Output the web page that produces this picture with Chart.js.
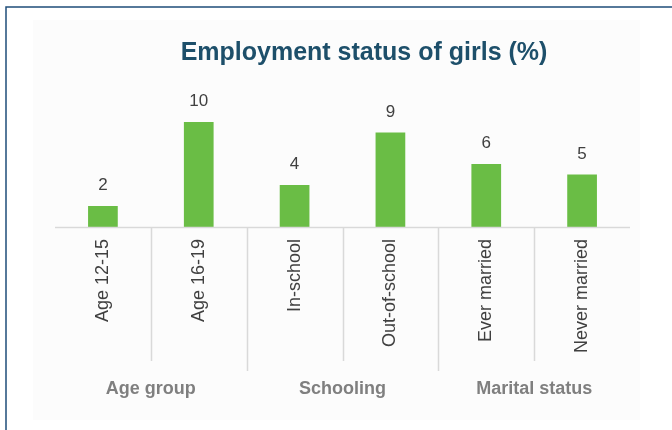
<!DOCTYPE html>
<html>
<head>
<meta charset="utf-8">
<script src="https://cdn.jsdelivr.net/npm/chart.js@4.4.0/dist/chart.umd.min.js"></script>
<style>
  html, body { margin: 0; padding: 0; background: #ffffff; }
  #wrap { position: relative; width: 672px; height: 430px; }
</style>
</head>
<body>
<div id="wrap"><canvas id="employmentChart" width="672" height="430"></canvas></div>
<script>
// Employment status of girls, by subgroup
const categories = ['Age 12-15', 'Age 16-19', 'In-school', 'Out-of-school', 'Ever married', 'Never married'];
const employedPct = [2, 10, 4, 9, 6, 5];
const groupNames = ['Age group', 'Schooling', 'Marital status'];
const groupSizes = [2, 2, 2];

const FONT = '"Liberation Sans", Arial, sans-serif';
const AXIS_GREY = '#d9d9d9';

// frame, title, separators, group names and value labels
const decorPlugin = {
    id: 'decor',
    beforeDraw(chart) {
        const ctx = chart.ctx;
        ctx.save();
        ctx.fillStyle = '#ffffff';
        ctx.fillRect(0, 0, chart.width, chart.height);
        ctx.fillStyle = '#fcfcfc';
        ctx.fillRect(33, 20, 607, 400);
        // dark outer frame (top and left edges)
        ctx.strokeStyle = '#1f4e79';
        ctx.lineWidth = 1.5;
        ctx.beginPath();
        ctx.moveTo(6, chart.height);
        ctx.lineTo(6, 7);
        ctx.lineTo(chart.width, 7);
        ctx.stroke();
        ctx.restore();
    },
    afterDraw(chart) {
        const ctx = chart.ctx;
        const x = chart.scales.x;
        const area = chart.chartArea;
        ctx.save();

        // title
        ctx.fillStyle = '#1d4f6a';
        ctx.font = 'bold 25px ' + FONT;
        ctx.textAlign = 'center';
        ctx.textBaseline = 'alphabetic';
        ctx.fillText('Employment status of girls (%)', 364, 60);

        // category axis line
        ctx.strokeStyle = AXIS_GREY;
        ctx.lineWidth = 1.5;
        ctx.beginPath();
        ctx.moveTo(area.left, area.bottom + 0.5);
        ctx.lineTo(area.right, area.bottom + 0.5);
        ctx.stroke();

        // separators between categories, longer at group boundaries
        const bounds = [];
        let acc = 0;
        groupSizes.forEach(n => { acc += n; bounds.push(acc); });
        for (let i = 1; i < categories.length; i++) {
            const sx = Math.round((x.getPixelForValue(i - 1) + x.getPixelForValue(i)) / 2) + 0.5;
            const long = bounds.includes(i);
            ctx.beginPath();
            ctx.moveTo(sx, area.bottom);
            ctx.lineTo(sx, long ? 371 : 361);
            ctx.stroke();
        }

        // group names
        ctx.fillStyle = '#7f7f7f';
        ctx.font = 'bold 18px ' + FONT;
        ctx.textBaseline = 'alphabetic';
        let start = 0;
        groupNames.forEach((name, g) => {
            const end = start + groupSizes[g] - 1;
            const half = (x.getPixelForValue(1) - x.getPixelForValue(0)) / 2;
            const cx = (x.getPixelForValue(start) - half + x.getPixelForValue(end) + half) / 2;
            ctx.fillText(name, cx, 394);
            start += groupSizes[g];
        });

        // value labels above bars
        ctx.fillStyle = '#404040';
        ctx.font = '17px ' + FONT;
        chart.getDatasetMeta(0).data.forEach((bar, i) => {
            ctx.fillText(String(employedPct[i]), bar.x, bar.y - 16);
        });
        ctx.restore();
    }
};

new Chart(document.getElementById('employmentChart'), {
    type: 'bar',
    data: {
        labels: categories,
        datasets: [{
            data: employedPct,
            backgroundColor: '#6abd45',
            borderWidth: 0,
            barPercentage: 0.31,
            categoryPercentage: 1
        }]
    },
    options: {
        responsive: false,
        animation: false,
        layout: { padding: { top: 101, left: 55, right: 42, bottom: 0 } },
        plugins: {
            legend: { display: false },
            tooltip: { enabled: false }
        },
        scales: {
            y: { display: false, min: 0, max: 12 },
            x: {
                grid: { display: false, drawTicks: false },
                border: { display: false },
                ticks: {
                    minRotation: 90,
                    maxRotation: 90,
                    padding: 12,
                    color: '#404040',
                    font: { family: FONT, size: 18 }
                },
                afterFit(scale) { scale.height = 203; }
            }
        }
    },
    plugins: [decorPlugin]
});
</script>
</body>
</html>
